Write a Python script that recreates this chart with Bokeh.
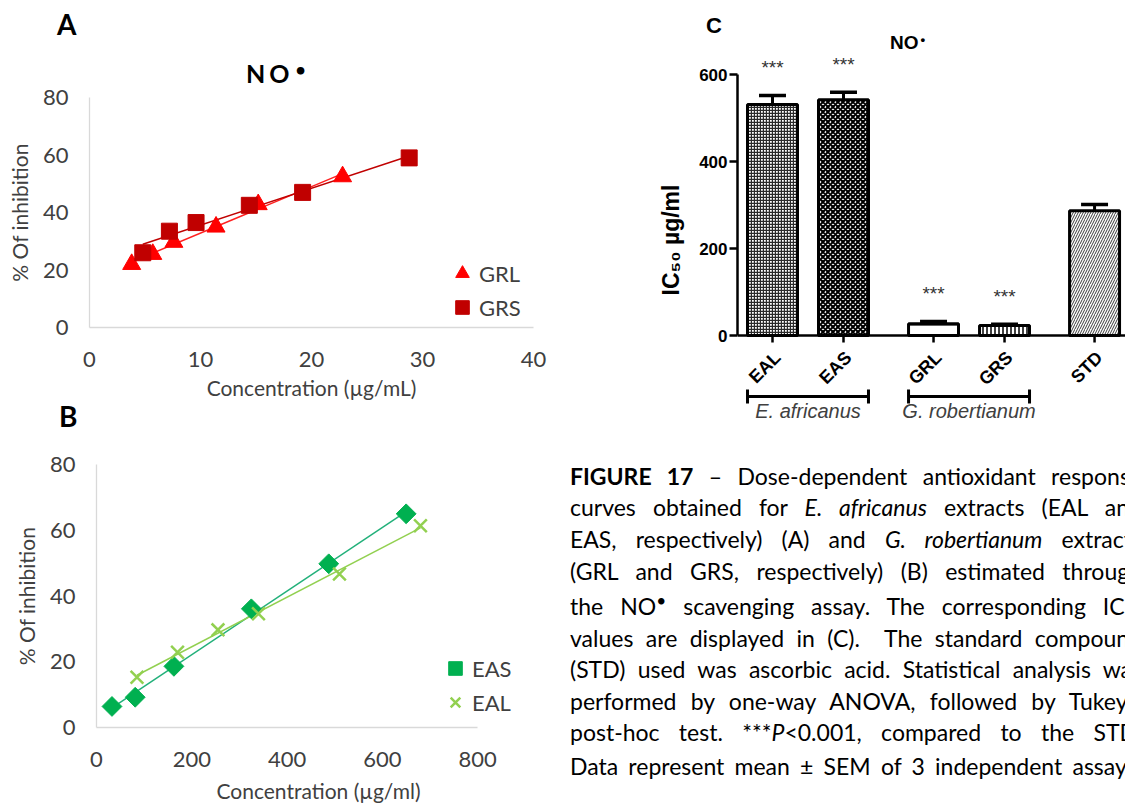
import numpy as np
from bokeh.plotting import figure
from bokeh.models import Range1d, FixedTicker, Legend, LegendItem, Span, ColumnDataSource, Div
from bokeh.layouts import row, column
from bokeh.embed import file_html
from bokeh.resources import INLINE
from bokeh.core.properties import value

# ---------------- data ----------------
# Panel A  (G. robertianum extracts)
grl_conc = [3.8, 5.7, 7.6, 11.4, 15.2, 22.8]
grl_inh = [22.0, 25.5, 29.7, 35.0, 42.8, 52.5]
grs_conc = [4.8, 7.2, 9.6, 14.4, 19.2, 28.8]
grs_inh = [26.0, 33.5, 36.5, 42.5, 47.0, 59.0]
# Panel B  (E. africanus extracts)
eas_conc = [32.5, 81.25, 162.5, 325.0, 487.5, 650.0]
eas_inh = [6.4, 9.2, 18.6, 36.1, 49.8, 65.0]
eal_conc = [85.0, 170.0, 255.0, 340.0, 510.0, 680.0]
eal_inh = [15.3, 22.9, 29.7, 34.6, 46.7, 61.4]
# Panel C  (IC50)
extracts = ["EAL", "EAS", "GRL", "GRS", "STD"]
species = ["E. africanus", "E. africanus", "G. robertianum", "G. robertianum", None]
ic50 = [531, 542, 27, 23, 287]
ic50_sem = [21, 17, 5, 3, 14]
signif = ["***", "***", "***", "***", ""]
# ticks
a_xticks = [0, 10, 20, 30, 40]
b_xticks = [0, 200, 400, 600, 800]
ab_yticks = [0, 20, 40, 60, 80]
c_yticks = [0, 200, 400, 600]

XL_FONT = "Lato"
XL_TXT = "#404040"
GP_FONT = "Liberation Sans"


def no_align(p):
    try:
        p.frame_align = False
    except Exception:
        pass


def excel_fig(w, h, left, right, top, bottom, xr, yr, xt, xbounds, xlabel, x_axlab_so, y_axlab_so):
    p = figure(width=w, height=h, x_range=Range1d(*xr), y_range=Range1d(*yr),
               output_backend="svg", toolbar_location=None, title=None,
               min_border_left=left, min_border_right=right,
               min_border_top=top, min_border_bottom=bottom)
    no_align(p)
    p.outline_line_color = None
    p.grid.visible = False
    p.background_fill_color = "white"
    p.border_fill_color = "white"
    p.xaxis.ticker = FixedTicker(ticks=xt)
    p.xaxis.bounds = xbounds
    p.yaxis.ticker = FixedTicker(ticks=ab_yticks)
    for ax in p.axis:
        ax.axis_line_color = "#d9d9d9"
        ax.axis_line_width = 1.3
        ax.major_tick_line_color = None
        ax.minor_tick_line_color = None
        ax.major_tick_out = 0
        ax.major_tick_in = 0
        ax.major_label_text_font = XL_FONT
        ax.major_label_text_font_size = "22px"
        ax.major_label_text_color = XL_TXT
        ax.axis_label_text_font = XL_FONT
        ax.axis_label_text_font_size = "21px"
        ax.axis_label_text_font_style = "normal"
        ax.axis_label_text_color = XL_TXT
    p.xaxis.axis_label = xlabel
    p.xaxis.major_label_standoff = 24
    p.xaxis.axis_label_standoff = x_axlab_so
    p.yaxis.axis_label = "% Of inhibition"
    p.yaxis.major_label_standoff = 21
    p.yaxis.axis_label_standoff = y_axlab_so
    return p


def trend(p, xs, ys, color):
    k, b = np.polyfit(xs, ys, 1)
    x2 = np.array([min(xs), max(xs)])
    p.line(x2, k * x2 + b, line_color=color, line_width=1.5)


def legend(p, items, loc, spacing):
    leg = Legend(items=[LegendItem(label=l, renderers=[r]) for l, r in items],
                 location=loc, glyph_width=34, glyph_height=34, spacing=spacing, padding=0, margin=0,
                 label_standoff=0, border_line_color=None, background_fill_alpha=0,
                 label_text_font=XL_FONT, label_text_font_size="22px", label_text_color=XL_TXT)
    p.add_layout(leg)


def abs_text(text, left, top, size, font, style="font-weight:bold;", color="black"):
    return ("<div style=\"position:absolute;left:%dpx;top:%dpx;white-space:nowrap;font-family:'%s';"
            "font-size:%dpx;line-height:%dpx;color:%s;%s\">%s</div>" % (left, top, font, size, size, color, style, text))


def box_div(inner, w, h, clip=False):
    html = ("<div style='position:relative;width:%dpx;height:%dpx;overflow:%s;'>%s</div>"
            % (w, h, "hidden" if clip else "visible", inner))
    return Div(text=html, width=w, height=h, margin=0,
               styles={"overflow": "hidden" if clip else "visible"})


BULLET = "<span style='position:relative;top:-0.38em;font-size:70%;margin-left:2px;'>•</span>"

# ---------------- Panel A ----------------
divA = box_div(abs_text("A", 57, 10, 28, XL_FONT) +
               abs_text("<span style='letter-spacing:4px;'>NO</span>" + BULLET, 246, 61, 25, XL_FONT),
               560, 85)
pA = excel_fig(560, 321, 89, 27, 12, 79, (0, 40), (0, 80), a_xticks, (0, 40),
               "Concentration (µg/mL)", 5, 8)
trend(pA, grl_conc, grl_inh, "#ff2020")
trend(pA, grs_conc, grs_inh, "#c00000")
rA1 = pA.scatter(grl_conc, grl_inh, marker="triangle", size=18, fill_color="#ff0000", line_color="#ff0000")
rA2 = pA.scatter(grs_conc, grs_inh, marker="square", size=16, fill_color="#c00000", line_color="#c00000")
legend(pA, [("GRL", rA1), ("GRS", rA2)], (356, 3), 0)

# ---------------- Panel B ----------------
divB = box_div(abs_text("B", 59, -4, 28, XL_FONT), 560, 34)
pB = excel_fig(560, 369, 96, 20, 24, 82, (0, 932), (0, 80), b_xticks, (0, 800),
               "Concentration (µg/ml)", 8, 8)
trend(pB, eas_conc, eas_inh, "#22b07a")
trend(pB, eal_conc, eal_inh, "#92d050")
rB1 = pB.scatter(eas_conc, eas_inh, marker="square", angle=np.pi / 4, size=14,
                 fill_color="#00b050", line_color="#00b050")
rB2 = pB.scatter(eal_conc, eal_inh, marker="x", size=18, line_color="#92d050", line_width=2.5)
legend(pB, [("EAS", rB1), ("EAL", rB2)], (342, 8), 0)

# ---------------- Panel C ----------------
divC = box_div(abs_text("C", 146, 15, 22, GP_FONT) +
               abs_text("NO" + BULLET, 330, 33, 19, GP_FONT), 565, 54)
C_W, C_H = 565, 376
C_LEFT, C_TOP, C_BOTTOM = 177, 0, 5
PX_UNIT = 71.0              # px per category step
PX_Y = 261.0 / 600.0        # px per IC50 unit
ZERO_FROM_TOP = 281.0       # zero line, px below frame top
frame_w = C_W - C_LEFT
frame_h = C_H - C_TOP - C_BOTTOM
GAP = 0.268
BAR_W = 0.704

# category positions with a gap between species groups
pos, g, prev = [], 0, species[0]
for i, s in enumerate(species):
    if i > 0 and s != prev:
        g += 1
    prev = s
    pos.append(i + GAP * g)
pos = np.array(pos)

x0 = -35.0 / PX_UNIT
y_top = ZERO_FROM_TOP / PX_Y
y_bot = -(frame_h - ZERO_FROM_TOP) / PX_Y
pC = figure(width=C_W, height=C_H, x_range=Range1d(x0, x0 + frame_w / PX_UNIT),
            y_range=Range1d(y_bot, y_top), output_backend="svg", toolbar_location=None,
            title=None, x_axis_location=None, min_border_left=C_LEFT, min_border_right=0,
            min_border_top=C_TOP, min_border_bottom=C_BOTTOM)
no_align(pC)
pC.outline_line_color = None
pC.grid.visible = False
ya = pC.yaxis[0]
ya.bounds = (0, 600)
ya.ticker = FixedTicker(ticks=c_yticks)
ya.axis_line_width = 2.5
ya.major_tick_line_width = 2.5
ya.major_tick_out = 8
ya.major_tick_in = 0
ya.minor_tick_line_color = None
ya.major_label_standoff = 2
ya.major_label_text_font = GP_FONT
ya.major_label_text_font_style = "bold"
ya.major_label_text_font_size = "17px"
ya.major_label_text_color = "black"
ya.axis_label = "IC₅₀ µg/ml"
ya.axis_label_text_font = GP_FONT
ya.axis_label_text_font_style = "bold"
ya.axis_label_text_font_size = "23px"
ya.axis_label_text_color = "black"
ya.axis_label_standoff = 12

hatch_styles = {
    "EAL": ("+", 3, 1.4, "#2a2a2a"),
    "EAS": ("x", 5, 2.0, "#000000"),
    "GRL": ("-", 11, 2.0, "#000000"),
    "GRS": ("|", 4, 1.5, "#000000"),
    "STD": ("/", 5, 1.0, "#3a3a3a"),
}
src = ColumnDataSource(dict(
    x=pos, top=ic50, err=np.array(ic50) + np.array(ic50_sem),
    hp=[hatch_styles[e][0] for e in extracts], hs=[hatch_styles[e][1] for e in extracts],
    hw=[hatch_styles[e][2] for e in extracts], hc=[hatch_styles[e][3] for e in extracts],
    name=extracts, sig=signif))
pC.vbar(x="x", top="top", bottom=0, width=BAR_W, source=src, fill_color="white",
        line_color="black", line_width=3, hatch_pattern="hp", hatch_scale="hs",
        hatch_weight="hw", hatch_color="hc")
pC.segment(x0="x", y0="top", x1="x", y1="err", source=src, line_color="black", line_width=3)
cap = 0.19
pC.segment(x0=pos - cap, y0=src.data["err"], x1=pos + cap, y1=src.data["err"],
           line_color="black", line_width=3.5)
pC.add_layout(Span(location=0, dimension="width", line_color="black", line_width=2.5))
pC.segment(x0=pos, y0=0, x1=pos, y1=-7 / PX_Y, line_color="black", line_width=2.5)
pC.text(x="x", y=0, text="name", source=src, angle=np.pi / 4, text_align="right",
        text_baseline="middle", x_offset=5, y_offset=19, text_font=value(GP_FONT),
        text_font_style="bold", text_font_size="18px", text_color="black")
pC.text(x="x", y="err", text="sig", source=src, text_align="center", text_baseline="middle",
        y_offset=-28, text_font=value(GP_FONT), text_font_size="19px", text_color="#333333")

# species brackets
br_y = -61 / PX_Y
cap_h = 7 / PX_Y
names = [s for s in dict.fromkeys(species) if s]
bx0, bx1, bxc = [], [], []
for s in names:
    xs = [pos[i] for i, t in enumerate(species) if t == s]
    bx0.append(min(xs) - BAR_W / 2)
    bx1.append(max(xs) + BAR_W / 2)
    bxc.append((min(xs) + max(xs)) / 2)
bx0, bx1 = np.array(bx0), np.array(bx1)
pC.segment(x0=bx0, y0=br_y, x1=bx1, y1=br_y, line_color="black", line_width=3)
pC.segment(x0=np.r_[bx0, bx1], y0=br_y - cap_h, x1=np.r_[bx0, bx1], y1=br_y + cap_h,
           line_color="black", line_width=3)
pC.text(x=bxc, y=br_y, text=names, text_align="center", text_baseline="middle", y_offset=14,
        text_font=value(GP_FONT), text_font_style="italic", text_font_size="20px",
        text_color="#404040")

# ---------------- caption ----------------
SUP = "<span style='position:relative;top:-0.45em;font-size:75%;'>•</span>"
SUB = "<span style='position:relative;top:0.3em;font-size:65%;'>50</span>"
cap_lines = [
    "<b>FIGURE 17</b> – Dose-dependent antioxidant response",
    "curves obtained for <i>E. africanus</i> extracts (EAL and",
    "EAS, respectively) (A) and <i>G. robertianum</i> extracts",
    "(GRL and GRS, respectively) (B) estimated through",
    "the NO" + SUP + " scavenging assay. The corresponding IC" + SUB,
    "values are displayed in (C).&nbsp; The standard compound",
    "(STD) used was ascorbic acid. Statistical analysis was",
    "performed by one-way ANOVA, followed by Tukey's",
    "post-hoc test. ***<i>P</i>&lt;0.001, compared to the STD.",
    "Data represent mean ± SEM of 3 independent assays.",
]
line_centers = [47, 78, 110, 142, 177, 209, 240, 272, 303, 337]
inner = ""
for c, ln in zip(line_centers, cap_lines):
    inner += ("<div style=\"position:absolute;left:10px;top:%dpx;width:572px;text-align:justify;"
              "text-align-last:justify;white-space:nowrap;font-family:'Lato';font-size:23px;"
              "line-height:23px;color:black;\">%s</div>" % (c - 12, ln))
caption = box_div(inner, 565, 379, clip=True)

layout = row(column(divA, pA, divB, pB), column(divC, pC, caption))
open("out.html", "w").write(file_html(layout, INLINE))
